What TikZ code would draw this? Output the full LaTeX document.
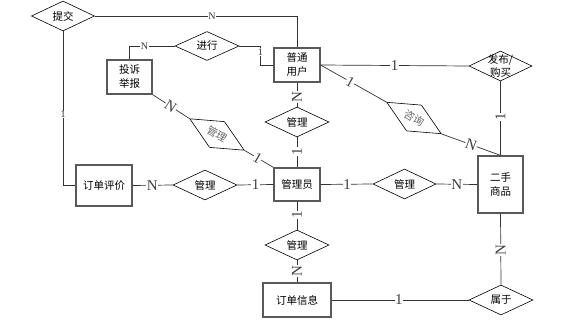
\documentclass[tikz,border=0pt]{standalone}
\usepackage{fontspec}
\newfontfamily\cjk{Noto Sans CJK SC}
\newfontfamily\lab{Liberation Serif}
\usetikzlibrary{shapes.geometric}
\begin{document}
\begin{tikzpicture}[x=1pt,y=-1pt,
 box/.style={draw=black!65, line width=1.2pt, rectangle, inner sep=0pt, font=\cjk\fontsize{10.5}{14}\selectfont, align=center},
 dia/.style={draw=black, line width=0.6pt, diamond, inner sep=0pt, minimum width=64pt, minimum height=30pt},
 dt/.style={font=\cjk\fontsize{10.5}{14}\selectfont, align=center, inner sep=0pt},
 ln/.style={draw=black!80, line width=0.7pt},
 lb/.style={font=\lab\fontsize{15}{15}\selectfont, fill=white, inner sep=0.5pt, text=black!75},
 sl/.style={font=\lab\fontsize{10}{10}\selectfont, fill=white, inner sep=0.5pt, text=black!80}]
\useasboundingbox[fill=white] (0,0) rectangle (570,329);

% entities
\node[box, minimum width=45pt, minimum height=34pt] (tousu) at (129.5,77) {投诉\\举报};
\node[box, minimum width=46pt, minimum height=34pt] (user) at (297,65) {普通\\用户};
\node[box, minimum width=46pt, minimum height=33pt] (admin) at (297,184.5) {管理员};
\node[box, minimum width=45pt, minimum height=57pt] (goods) at (500.5,184.5) {二手\\商品};
\node[box, minimum width=56pt, minimum height=41pt] (pingjia) at (104,185.5) {订单评价};
\node[box, minimum width=68pt, minimum height=34pt] (dingdan) at (297,300) {订单信息};

% relations
\node[dia, minimum width=63pt] (tijiao) at (63,16) {};
\node[dt] (tijiaot) at (tijiao) {提交};
\node[dia, minimum height=29pt] (jinxing) at (207,46) {};
\node[dt] (jinxingt) at (jinxing) {进行};
\node[dia, minimum width=63pt] (fabu) at (500.5,66) {};
\node[dt, font=\cjk\fontsize{10.5}{13}\selectfont] (fabut) at (fabu) {发布/\\购买};
\node[dia, minimum width=63pt, rotate=-30] (zixun) at (414,118) {};
\node[dt, rotate=-30, text=black!60] (zixunt) at (zixun) {咨询};
\node[dia] (gl1) at (297,122) {};
\node[dt] (gl1t) at (gl1) {管理};
\node[dia, minimum width=63pt] (gl2) at (404.5,184) {};
\node[dt] (gl2t) at (gl2) {管理};
\node[dia] (gl3) at (205,185) {};
\node[dt] (gl3t) at (gl3) {管理};
\node[dia, minimum width=63pt, rotate=-30] (gl4) at (217,134.5) {};
\node[dt, rotate=-30, text=black!60] (gl4t) at (gl4) {管理};
\node[dia] (gl5) at (297,245) {};
\node[dt] (gl5t) at (gl5) {管理};
\node[dia] (shuyu) at (501,300) {};
\node[dt] (shuyut) at (shuyu) {属于};

% connectors
\draw[ln] (tijiao.east) -- node[sl, pos=0.58] (l1) {N} (tijiao.east -| user.north) -- (user.north);
\draw[ln] (jinxing.west) -- node[sl, pos=0.67] (l2) {N} (jinxing.west -| tousu.north) -- (tousu.north);
\draw[ln] (jinxing.east) -- ++(21,0) coordinate (jk) -- node[sl, pos=0.32] (l3) {1} (jk |- user.west) -- (user.west);
\draw[ln] (tijiao.south) -- node[sl, pos=0.54] (l4) {1} (tijiao.south |- pingjia.west) -- (pingjia.west);
\draw[ln] (user.east) -- node[lb, pos=0.5] (l5) {1} (fabu.west);
\draw[ln] (user.east) -- node[lb, sloped, pos=0.45] (l6) {1} (zixun.west);
\draw[ln] (zixun.east) -- node[lb, sloped, pos=0.5] (l7) {N} (goods.north);
\draw[ln] (fabu.south) -- node[lb, rotate=90, pos=0.48] (l8) {1} (goods.north);
\draw[ln] (user.south) -- node[lb, rotate=90, pos=0.6] (l9) {N} (gl1.north);
\draw[ln] (gl1.south) -- node[lb, rotate=90, pos=0.48] (l10) {1} (admin.north);
\draw[ln] (admin.east) -- node[lb, pos=0.51] (l11) {1} (gl2.west);
\draw[ln] (gl2.east) -- node[lb, pos=0.5] (l12) {N} (goods.west);
\draw[ln] (pingjia.east) -- node[lb, pos=0.49] (l13) {N} (gl3.west);
\draw[ln] (gl3.east) -- node[lb, pos=0.51] (l14) {1} (admin.west);
\draw[ln] (tousu.south east) -- node[lb, sloped, pos=0.49] (l15) {N} (gl4.west);
\draw[ln] (gl4.east) -- node[lb, sloped, pos=0.45] (l16) {1} (admin.north west);
\draw[ln] (admin.south) -- node[lb, rotate=90, pos=0.48] (l17) {1} (gl5.north);
\draw[ln] (gl5.south) -- node[lb, rotate=90, pos=0.48] (l18) {N} (dingdan.north);
\draw[ln] (dingdan.east) -- node[lb, pos=0.49] (l19) {1} (shuyu.west);
\draw[ln] (goods.south) -- node[lb, rotate=90, pos=0.51] (l20) {N} (shuyu.north);
\end{tikzpicture}
\end{document}
